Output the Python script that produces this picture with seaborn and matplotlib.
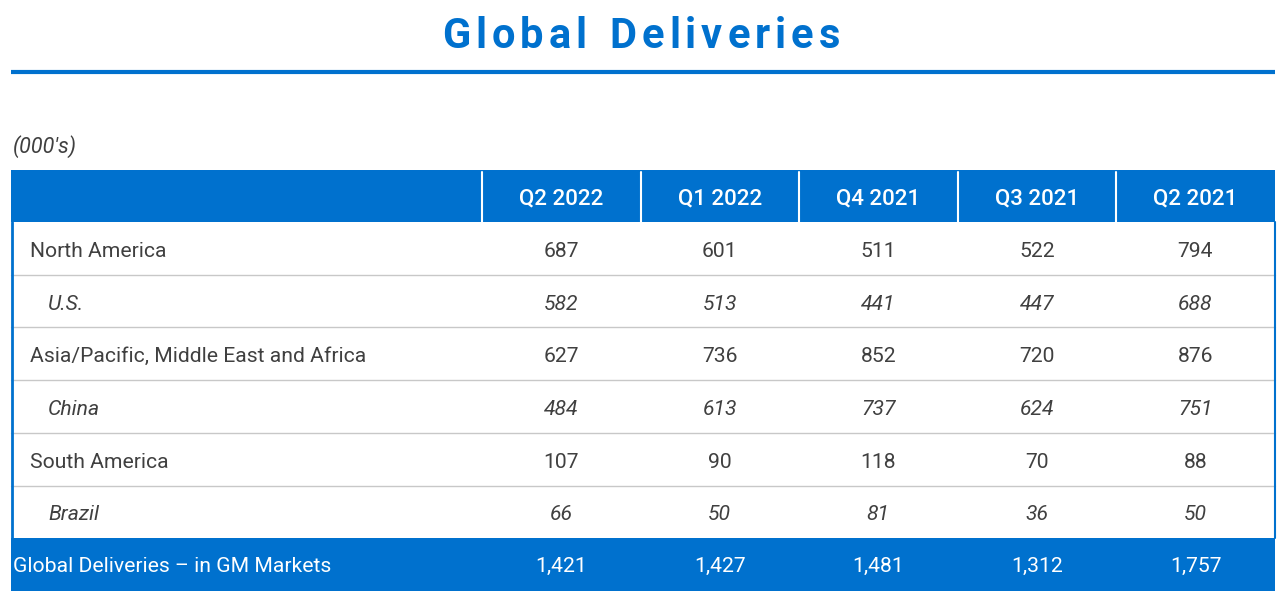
import numpy as np
import pandas as pd
import matplotlib
matplotlib.use("Agg")
import matplotlib.pyplot as plt
import seaborn as sns

# table data (000's)
quarters = ["Q2 2022", "Q1 2022", "Q4 2021", "Q3 2021", "Q2 2021"]
regions = ["North America", "U.S.", "Asia/Pacific, Middle East and Africa",
           "China", "South America", "Brazil"]
is_sub = [False, True, False, True, False, True]
north_america = [687, 601, 511, 522, 794]
us = [582, 513, 441, 447, 688]
apmea = [627, 736, 852, 720, 876]
china = [484, 613, 737, 624, 751]
south_america = [107, 90, 118, 70, 88]
brazil = [66, 50, 81, 36, 50]
total_label = "Global Deliveries \u2013 in GM Markets"
total = [1421, 1427, 1481, 1312, 1757]

df = pd.DataFrame([north_america, us, apmea, china, south_america, brazil],
                  index=regions, columns=quarters)

sns.set_theme(style="white")
plt.rcParams["font.family"] = ["Roboto", "DejaVu Sans"]

BLUE = "#0071ce"
TEXT = "#404040"
GRID = "#c8c8c8"
FS = 15.2

fig = plt.figure(figsize=(12.82, 6.0), dpi=100)
ax = fig.add_axes([0, 0, 1, 1])
ax.set_xlim(0, 1282)
ax.set_ylim(600, 0)
ax.axis("off")

# title with letter spacing
title = "Global Deliveries"
fig.canvas.draw()
r = fig.canvas.get_renderer()
tkw = dict(fontsize=30, fontweight="bold", color=BLUE, va="center", ha="left")
widths = []
for ch in title:
    t = ax.text(0, 0, ch if ch != " " else "n", **tkw)
    bb = t.get_window_extent(renderer=r)
    widths.append(bb.width * (0.55 if ch == " " else 1.0))
    t.remove()
spacing = 5.0
tw = sum(widths) + spacing * (len(title) - 1)
x = 641 - tw / 2
for ch, w in zip(title, widths):
    if ch != " ":
        ax.text(x, 36, ch, **tkw)
    x += w + spacing

ax.plot([11, 1275], [71.5, 71.5], color=BLUE, lw=3, solid_capstyle="butt")

ax.text(13, 147, "(000's)", fontsize=15.5, style="italic", color=TEXT, va="center")

# table geometry
left, right = 11, 1275
col_edges = [left, 482, 640.5, 799, 957.5, 1116, right]
top = 170
head_h = 52
row_h = 52.7
n = len(regions)
body_top = top + head_h
tot_top = body_top + n * row_h
bottom = tot_top + 53

ax.add_patch(plt.Rectangle((left, top), right - left, head_h, color=BLUE, lw=0))
ax.add_patch(plt.Rectangle((left, tot_top), right - left, bottom - tot_top, color=BLUE, lw=0))
for xe in col_edges[1:-1]:
    ax.plot([xe, xe], [top + 2, body_top], color="white", lw=1.5)

centers = [(col_edges[i + 1] + col_edges[i + 2]) / 2 for i in range(len(quarters))]
for cx, q in zip(centers, quarters):
    ax.text(cx, top + head_h / 2 + 3, q, fontsize=16, fontweight="medium",
            color="white", ha="center", va="center")

for i, (name, sub) in enumerate(zip(regions, is_sub)):
    yc = body_top + (i + 0.5) * row_h + 3
    st = "italic" if sub else "normal"
    ax.text(48 if sub else 30, yc, name, fontsize=FS, style=st, color=TEXT,
            ha="left", va="center")
    for cx, v in zip(centers, df.loc[name]):
        ax.text(cx, yc, f"{v:,}", fontsize=FS, style=st, color=TEXT,
                ha="center", va="center")
    if i < n - 1:
        yl = body_top + (i + 1) * row_h
        ax.plot([left, right], [yl, yl], color=GRID, lw=1)

yc = tot_top + (bottom - tot_top) / 2 + 2
ax.text(13, yc, total_label, fontsize=FS, color="white", ha="left", va="center")
for cx, v in zip(centers, total):
    ax.text(cx, yc, f"{v:,}", fontsize=FS, color="white", ha="center", va="center")

ax.plot([left + 0.5, left + 0.5], [body_top, tot_top], color=BLUE, lw=2)
ax.plot([right - 0.5, right - 0.5], [body_top, tot_top], color=BLUE, lw=1.5)

fig.savefig("out.png", dpi=100)
